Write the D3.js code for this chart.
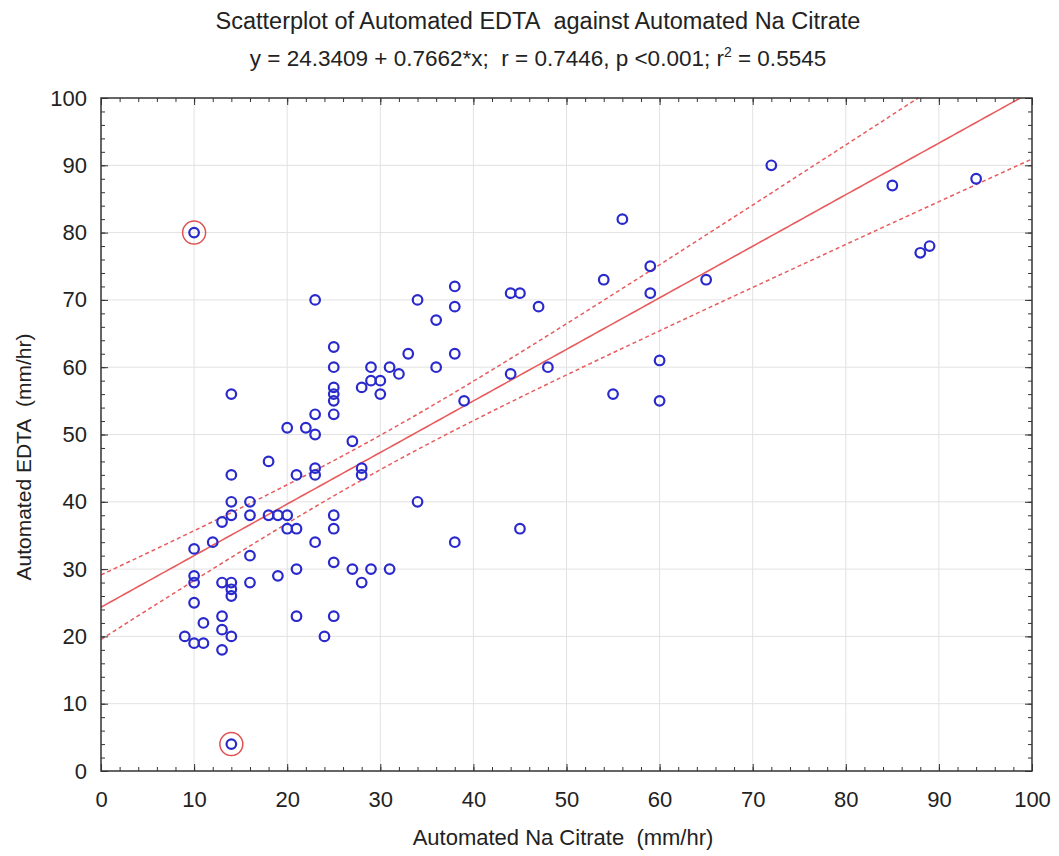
<!DOCTYPE html>
<html>
<head>
<meta charset="utf-8">
<script src="https://cdn.jsdelivr.net/npm/d3@7"></script>
<style>
  body { margin: 0; background: #fff; }
  text { font-family: "Liberation Sans", Arial, sans-serif; fill: #222; }
</style>
</head>
<body>
<div class="chart"></div>
<script>
// ======= SCATTERPLOT: Automated EDTA vs Automated Na Citrate =======

const citrate = [10, 14, 9, 10, 11, 13, 14, 13, 13, 11, 10, 10, 10, 13, 14, 14, 14, 16, 10, 12,
  16, 13, 14, 16, 14, 16, 14, 18, 14, 18, 19, 20, 20, 21, 21, 19, 21, 21, 20, 22,
  23, 23, 23, 23, 23, 23, 24, 25, 25, 25, 25, 25, 25, 25, 25, 25, 25, 27, 27, 28,
  28, 28, 28, 29, 29, 29, 30, 30, 31, 31, 32, 33, 34, 34, 36, 36, 38, 38, 38, 38,
  39, 44, 45, 44, 45, 47, 48, 54, 55, 56, 59, 59, 60, 60, 65, 72, 85, 88, 89, 94]
const edta = [80, 4, 20, 19, 19, 18, 20, 21, 23, 22, 25, 28, 29, 28, 28, 27, 26, 28, 33, 34,
  32, 37, 38, 38, 40, 40, 44, 46, 56, 38, 38, 38, 36, 36, 44, 29, 30, 23, 51, 51,
  50, 53, 70, 45, 44, 34, 20, 23, 31, 36, 38, 53, 55, 56, 57, 60, 63, 49, 30, 28,
  44, 45, 57, 30, 58, 60, 58, 56, 60, 30, 59, 62, 70, 40, 67, 60, 72, 69, 62, 34,
  55, 71, 71, 59, 36, 69, 60, 73, 56, 82, 75, 71, 61, 55, 73, 90, 87, 77, 78, 88]

// the two points ringed in red
const outliers = [[10, 80], [14, 4]]

const intercept = 24.3409
const slope = 0.7662
const xTicks = [0, 10, 20, 30, 40, 50, 60, 70, 80, 90, 100]
const yTicks = [0, 10, 20, 30, 40, 50, 60, 70, 80, 90, 100]

const data = citrate.map((c, i) => ({x: c, y: edta[i]}))

const margin = {top: 98, right: 27, bottom: 85, left: 101}
const W = 1059, H = 856
const width = W - margin.left - margin.right
const height = H - margin.top - margin.bottom

const svg = d3.select('.chart')
  .append('svg')
    .attr('width', W)
    .attr('height', H)

const g = svg.append('g')
  .attr('transform', `translate(${margin.left}, ${margin.top})`)

const xScale = d3.scaleLinear().domain([0, 100]).range([0, width])
const yScale = d3.scaleLinear().domain([0, 100]).range([height, 0])

// grid
g.append('g').selectAll('line')
  .data(xTicks.slice(1, -1))
  .join('line')
    .attr('x1', d => xScale(d)).attr('x2', d => xScale(d))
    .attr('y1', 0).attr('y2', height)
    .attr('stroke', '#e2e2e2')
g.append('g').selectAll('line')
  .data(yTicks.slice(1, -1))
  .join('line')
    .attr('y1', d => yScale(d)).attr('y2', d => yScale(d))
    .attr('x1', 0).attr('x2', width)
    .attr('stroke', '#e2e2e2')

// confidence band for the mean, from the data
const n = data.length
const xbar = d3.mean(citrate)
const sxx = d3.sum(citrate, v => (v - xbar) ** 2)
const s = Math.sqrt(d3.sum(data, d => (d.y - intercept - slope * d.x) ** 2) / (n - 2))
const tCrit = 1.984
const band = xv => tCrit * s * Math.sqrt(1 / n + (xv - xbar) ** 2 / sxx)
const xs = d3.range(0, 100.5, 0.5)

g.append('clipPath').attr('id', 'plotclip')
  .append('rect').attr('width', width).attr('height', height)

const lines = g.append('g').attr('clip-path', 'url(#plotclip)')
const line = d3.line().x(d => xScale(d[0])).y(d => yScale(d[1]))

lines.append('path')
  .attr('d', line(xs.map(v => [v, intercept + slope * v])))
  .attr('fill', 'none').attr('stroke', '#e85c5e').attr('stroke-width', 1.6)
lines.append('path')
  .attr('d', line(xs.map(v => [v, intercept + slope * v + band(v)])))
  .attr('fill', 'none').attr('stroke', '#e85c5e').attr('stroke-width', 1.5)
  .attr('stroke-dasharray', '4,3')
lines.append('path')
  .attr('d', line(xs.map(v => [v, intercept + slope * v - band(v)])))
  .attr('fill', 'none').attr('stroke', '#e85c5e').attr('stroke-width', 1.5)
  .attr('stroke-dasharray', '4,3')

// points
g.append('g').selectAll('circle')
  .data(data)
  .join('circle')
    .attr('cx', d => xScale(d.x))
    .attr('cy', d => yScale(d.y))
    .attr('r', 4.8)
    .attr('fill', 'none')
    .attr('stroke', '#2a2acc')
    .attr('stroke-width', 2.2)

g.append('g').selectAll('circle')
  .data(outliers)
  .join('circle')
    .attr('cx', d => xScale(d[0]))
    .attr('cy', d => yScale(d[1]))
    .attr('r', 11.5)
    .attr('fill', 'none')
    .attr('stroke', '#e05050')
    .attr('stroke-width', 1.5)

// axes: inward ticks on all four sides
const minor = d3.range(0, 101, 2)
const addAxis = (axis, tr) => {
  const a = g.append('g').attr('transform', tr).call(axis)
  a.select('.domain').remove()
  a.selectAll('line').attr('stroke', '#333')
  a.selectAll('text').attr('font-size', 22).attr('font-family', null).attr('fill', '#222')
  return a
}
addAxis(d3.axisBottom(xScale).tickValues(minor).tickSize(-4).tickFormat(''), `translate(0,${height})`)
addAxis(d3.axisTop(xScale).tickValues(minor).tickSize(-4).tickFormat(''), 'translate(0,0)')
addAxis(d3.axisLeft(yScale).tickValues(minor).tickSize(-4).tickFormat(''), 'translate(0,0)')
addAxis(d3.axisRight(yScale).tickValues(minor).tickSize(-4).tickFormat(''), `translate(${width},0)`)
addAxis(d3.axisTop(xScale).tickValues(xTicks).tickSize(-7).tickFormat(''), 'translate(0,0)')
addAxis(d3.axisRight(yScale).tickValues(yTicks).tickSize(-7).tickFormat(''), `translate(${width},0)`)
addAxis(d3.axisBottom(xScale).tickValues(xTicks).tickSize(-7).tickPadding(20), `translate(0,${height})`)
addAxis(d3.axisLeft(yScale).tickValues(yTicks).tickSize(-7).tickPadding(14), 'translate(0,0)')

g.append('rect')
  .attr('width', width).attr('height', height)
  .attr('fill', 'none').attr('stroke', '#333').attr('stroke-width', 1.5)

// titles
svg.append('text')
  .attr('x', 538).attr('y', 29)
  .attr('text-anchor', 'middle').attr('font-size', 23.5)
  .text('Scatterplot of Automated EDTA\u00a0 against Automated Na Citrate')

const sub = svg.append('text')
  .attr('x', 538).attr('y', 66)
  .attr('text-anchor', 'middle').attr('font-size', 22.5)
sub.append('tspan').text('y = 24.3409 + 0.7662*x;\u00a0 r = 0.7446, p <0.001; r')
sub.append('tspan').attr('font-size', 14).attr('dy', -9).text('2')
sub.append('tspan').attr('dy', 9).text(' = 0.5545')

svg.append('text')
  .attr('x', 563).attr('y', 845)
  .attr('text-anchor', 'middle').attr('font-size', 22)
  .text('Automated Na Citrate\u00a0 (mm/hr)')

svg.append('text')
  .attr('transform', 'translate(31, 457) rotate(-90)')
  .attr('text-anchor', 'middle').attr('font-size', 21)
  .text('Automated EDTA\u00a0 (mm/hr)')
</script>
</body>
</html>
